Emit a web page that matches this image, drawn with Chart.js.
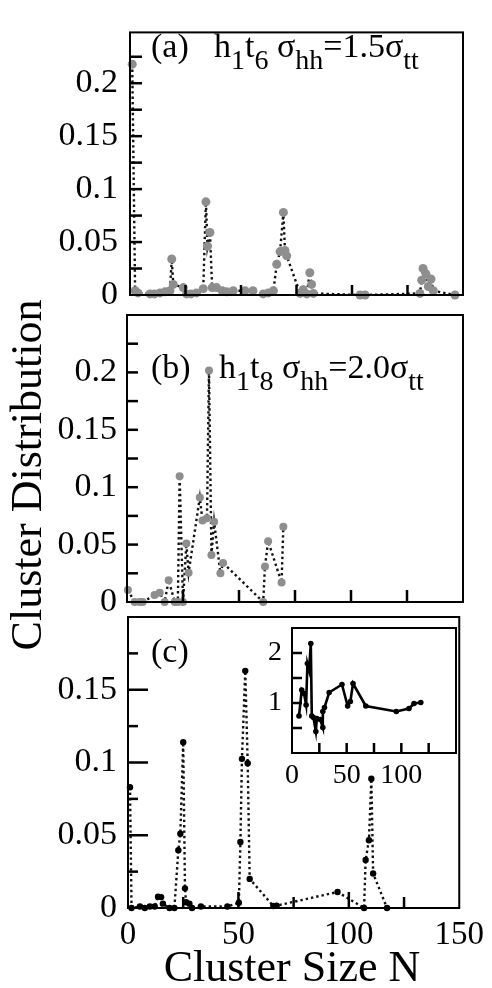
<!DOCTYPE html>
<html><head><meta charset="utf-8">
<script src="https://cdn.jsdelivr.net/npm/chart.js@4.4.0/dist/chart.umd.min.js"></script>
<style>
html,body{margin:0;padding:0;background:#fff;}
#wrap{position:relative;width:492px;height:988px;overflow:hidden;background:#fff;font-family:'Liberation Serif','Times New Roman',serif;color:#000;}
canvas{position:absolute;left:0;top:0;}
.t{position:absolute;white-space:nowrap;font-size:34px;line-height:34px;}
.t span{font-size:28px;line-height:0;vertical-align:-12px;}
.ttl{position:absolute;white-space:nowrap;text-align:center;font-size:44px;}
</style></head>
<body><div id="wrap">
<canvas id="ca" width="492" height="988"></canvas>
<canvas id="cb" width="492" height="988"></canvas>
<canvas id="cc" width="492" height="988"></canvas>
<canvas id="ci" width="492" height="988"></canvas>
<div class="t" style="left:151px;top:29px;">(a)</div>
<div class="t" style="left:214px;top:29px;">h<span>1</span>t<span>6</span> σ<span>hh</span>=1.5σ<span>tt</span></div>
<div class="t" style="left:151px;top:350px;">(b)</div>
<div class="t" style="left:219px;top:350px;">h<span>1</span>t<span>8</span> σ<span>hh</span>=2.0σ<span>tt</span></div>
<div class="t" style="left:151px;top:634px;">(c)</div>
<div class="ttl" style="left:-173px;top:450px;width:400px;height:50px;line-height:50px;transform:rotate(-90deg);">Cluster Distribution</div>
<div class="ttl" style="left:92px;top:945px;width:400px;height:44px;line-height:44px;">Cluster Size N</div>
</div>
<script>
// ---------- data ----------
const sizeA = [1, 2.3, 3.6, 9, 11, 13.5, 15.8, 18, 18.8, 19.5, 24, 25.5, 27.5, 30, 33, 34.2, 34.9, 36, 37, 39, 41.5, 43.5, 46.5, 51.8, 55.4, 60, 62.3, 64.6, 66.1, 67.6, 69.1, 69.8, 70.6, 76.6, 78, 79.6, 81, 81.8, 82.6, 103.6, 105.9, 130.6, 131.4, 132, 133.3, 134.4, 135.6, 136.6, 146.4];
const distA = [0.218, 0.004, 0.002, 0.001, 0.001, 0.002, 0.003, 0.004, 0.034, 0.010, 0.007, 0.001, 0.001, 0.002, 0.006, 0.088, 0.046, 0.059, 0.007, 0.007, 0.004, 0.003, 0.004, 0.004, 0.004, 0.001, 0.002, 0.004, 0.029, 0.041, 0.078, 0.042, 0.037, 0.0015, 0.005, 0.001, 0.021, 0.010, 0.0015, 0, 0, 0.0015, 0.014, 0.025, 0.020, 0.008, 0.015, 0.004, 0];

const sizeB = [0.4, 3.4, 5.6, 7, 12.3, 14.6, 16.8, 18.6, 21.3, 22.7, 23.5, 25, 26.5, 27.5, 32.5, 33.7, 35.7, 36.6, 37.7, 38.9, 41.7, 42.9, 60.8, 61.6, 63, 69, 69.8];
const distB = [0.0104, 0, 0, 0, 0.006, 0.008, 0, 0.019, 0, 0, 0.1096, 0, 0.051, 0.0255, 0.091, 0.071, 0.073, 0.2017, 0.041, 0.070, 0.025, 0.034, 0, 0.031, 0.053, 0.017, 0.0655];

const sizeC = [0.9, 1.6, 5.4, 7.6, 9.9, 12.1, 13.6, 15, 15.8, 18.8, 21, 22.8, 23.7, 25, 25.8, 26.3, 27.8, 29, 33, 45, 50.2, 50.9, 51.6, 53.1, 54.2, 55.1, 65.8, 67.3, 94.9, 106.9, 107.6, 109.1, 110.2, 111, 117.3];
const distC = [0.083, 0, 0.001, 0, 0.001, 0.001, 0.0077, 0.0075, 0.003, 0, 0, 0.0397, 0.051, 0.114, 0.0135, 0.004, 0.003, 0, 0.001, 0.001, 0.0036, 0.0454, 0.1025, 0.163, 0.0995, 0.020, 0.0014, 0.0016, 0.011, 0, 0.033, 0.0466, 0.0888, 0.0237, 0];

const sizeInset = [6.4, 8.9, 11, 12.9, 14.1, 15.6, 17.2, 18.1, 19.6, 21.8, 22.7, 25.8, 28.2, 28.2, 29.7, 34, 45.7, 50.9, 53.4, 55.8, 67.5, 95.4, 107, 111.6, 117.8];
const ratioInset = [0.74, 1.26, 1.19, 0.96, 1.79, 1.66, 2.19, 0.74, 0.71, 0.43, 0.69, 0.67, 0.51, 0.83, 0.91, 1.21, 1.37, 0.94, 1.03, 1.39, 0.94, 0.83, 0.89, 0.99, 1.01];

const xLabelsMain = [0, 50, 100, 150];
const xLabelsInset = [0, 50, 100];
const yLabelsA = [0, 0.05, 0.1, 0.15, 0.2];
const yLabelsB = [0, 0.05, 0.1, 0.15, 0.2];
const yLabelsC = [0, 0.05, 0.1, 0.15];
const yLabelsInset = [1, 2];

// ---------- helpers ----------
Chart.defaults.font.family = "'Liberation Serif','Times New Roman',serif";
Chart.defaults.color = '#000';
const near = (a, b) => Math.abs(a - b) < 1e-6;
const inList = (v, list) => list.some(l => near(v, l));
const fmt = v => near(v, 0) ? '0' : String(parseFloat(v.toFixed(3)));

function makeFrame(name, f) {
  return {
    id: name,
    beforeDraw(chart) {
      if (!f.fill) return;
      const a = chart.chartArea, ctx = chart.ctx;
      ctx.save(); ctx.fillStyle = f.fill; ctx.fillRect(a.left, a.top, a.right - a.left, a.bottom - a.top); ctx.restore();
    },
    afterDraw(chart) {
      const ctx = chart.ctx, a = chart.chartArea;
      const x = chart.scales.x, y = chart.scales.y;
      const w = f.tw;
      ctx.save();
      ctx.fillStyle = '#000';
      for (let k = 1; k * f.xStep < x.max - 1e-9; k++) {
        const v = k * f.xStep;
        const px = x.getPixelForValue(v);
        const len = inList(v, f.xMajorVals) ? f.xMajor : f.xMinor;
        ctx.fillRect(px - w / 2, a.bottom - len, w, len);
      }
      for (let k = 1; k * f.yStep < y.max - 1e-9; k++) {
        const v = k * f.yStep;
        const py = y.getPixelForValue(v);
        const len = inList(v, f.yMajorVals) ? f.yMajor : f.yMinor;
        ctx.fillRect(a.left, py - w / 2, len, w);
      }
      ctx.strokeStyle = '#000';
      ctx.lineWidth = f.lw;
      ctx.strokeRect(a.left, a.top, a.right - a.left, a.bottom - a.top);
      ctx.restore();
    }
  };
}

function makeChart(id, g, xs, ys, st) {
  const data = xs.map((n, i) => ({x: n, y: ys[i]}));
  return new Chart(document.getElementById(id), {
    type: 'line',
    data: {datasets: [{
      data,
      borderColor: st.lineColor,
      borderWidth: st.lineWidth,
      borderDash: st.dash,
      pointRadius: st.r,
      pointBackgroundColor: st.pointColor,
      pointBorderWidth: 0,
      pointHoverRadius: st.r,
      tension: 0,
      fill: false,
      clip: false
    }]},
    options: {
      responsive: false,
      animation: false,
      events: [],
      layout: {padding: {left: 0, top: g.top, right: 492 - g.right, bottom: 0}},
      plugins: {legend: {display: false}, tooltip: {enabled: false}},
      scales: {
        x: {
          type: 'linear', min: 0, max: 150,
          grid: {display: false, drawTicks: false},
          border: {display: false},
          ticks: {
            stepSize: 25, autoSkip: false, includeBounds: false, maxRotation: 0,
            display: st.xLabels.length > 0,
            padding: st.xPad,
            font: {size: st.xFont},
            callback: v => inList(v, st.xLabels) ? String(v) : null
          },
          afterFit: s => { s.height = 988 - g.bottom; }
        },
        y: {
          type: 'linear', min: 0, max: g.yMax,
          grid: {display: false, drawTicks: false},
          border: {display: false},
          ticks: {
            stepSize: g.yStep, autoSkip: false, includeBounds: false,
            padding: st.yPad,
            font: {size: st.yFont},
            callback: v => inList(v, st.yLabels) ? fmt(v) : null
          },
          afterFit: s => { s.width = g.left; }
        }
      }
    },
    plugins: [makeFrame('frame' + id, st.frame)]
  });
}

const gray = '#8e8e8e';
makeChart('ca', {left: 130, right: 463, top: 12, bottom: 295, yMax: 0.248, yStep: 0.025}, sizeA, distA, {
  lineColor: '#111', lineWidth: 2.4, dash: [2.4, 3], r: 4.5, pointColor: gray,
  xLabels: [], yLabels: yLabelsA, xFont: 33, yFont: 34, xPad: 6, yPad: 12,
  frame: {lw: 2, tw: 2.5, xStep: 25, yStep: 0.025, xMajor: 10, xMinor: 10, yMajor: 12, yMinor: 12, xMajorVals: [], yMajorVals: []}
});
makeChart('cb', {left: 127, right: 463, top: 315, bottom: 602, yMax: 0.25, yStep: 0.025}, sizeB, distB, {
  lineColor: '#111', lineWidth: 2.4, dash: [2.4, 3], r: 4, pointColor: gray,
  xLabels: [], yLabels: yLabelsB, xFont: 33, yFont: 34, xPad: 6, yPad: 10,
  frame: {lw: 2, tw: 2.5, xStep: 25, yStep: 0.025, xMajor: 12, xMinor: 12, yMajor: 11, yMinor: 11, xMajorVals: [], yMajorVals: []}
});
makeChart('cc', {left: 128, right: 463, top: 617, bottom: 908, yMax: 0.2, yStep: 0.025}, sizeC, distC, {
  lineColor: '#111', lineWidth: 2.4, dash: [2.4, 3], r: 3.2, pointColor: '#000',
  xLabels: xLabelsMain, yLabels: yLabelsC, xFont: 33, yFont: 34, xPad: 8, yPad: 11,
  frame: {lw: 2, tw: 2.5, xStep: 25, yStep: 0.025, xMajor: 16, xMinor: 11, yMajor: 20, yMinor: 10, xMajorVals: [50, 100], yMajorVals: [0.05, 0.1, 0.15]}
});
makeChart('ci', {left: 292, right: 456, top: 628, bottom: 753, yMax: 2.5, yStep: 0.5}, sizeInset, ratioInset, {
  lineColor: '#000', lineWidth: 2.6, dash: [], r: 2.8, pointColor: '#000',
  xLabels: xLabelsInset, yLabels: yLabelsInset, xFont: 28, yFont: 28, xPad: 6, yPad: 10,
  frame: {lw: 2, tw: 2.5, fill: '#fff', xStep: 25, yStep: 0.5, xMajor: 10, xMinor: 10, yMajor: 10, yMinor: 10, xMajorVals: [], yMajorVals: []}
});
</script>
</body></html>
